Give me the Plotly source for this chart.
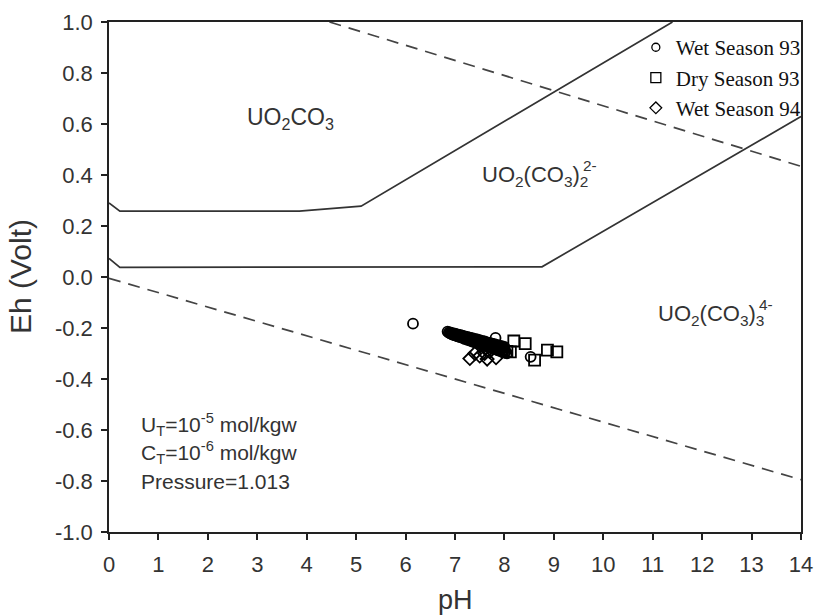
import plotly.graph_objects as go

# Stability field boundaries (pH, Eh in volts)
upper_bound_ph = [0.0, 0.22, 3.85, 5.1, 11.4]
upper_bound_eh = [0.29, 0.258, 0.258, 0.278, 1.0]
lower_bound_ph = [0.0, 0.22, 8.76, 14.0]
lower_bound_eh = [0.073, 0.038, 0.040, 0.629]

# Water stability limits
o2_limit_ph = [4.46, 14.0]
o2_limit_eh = [1.0, 0.434]
h2_limit_ph = [0.0, 14.0]
h2_limit_eh = [-0.005, -0.795]

# Groundwater samples
wet93_ph = [6.15, 7.82, 8.53,
            6.85, 6.90, 6.95, 7.00, 7.05, 7.10, 7.15, 7.20, 7.25, 7.30, 7.35, 7.40,
            7.45, 7.50, 7.55, 7.60, 7.65, 7.70, 7.75, 7.80, 7.85, 7.90, 7.95, 8.00,
            6.875, 6.925, 6.975, 7.025, 7.075, 7.125, 7.175, 7.225, 7.275, 7.325,
            7.375, 7.425, 7.475, 7.525, 7.575, 7.625, 7.675, 7.725, 7.775, 7.825,
            7.875, 7.925, 7.975,
            6.90, 7.00, 7.10, 7.20, 7.30, 7.40, 7.50, 7.60, 7.70, 7.80, 7.90, 8.00,
            6.925, 6.975, 7.025, 7.075, 7.125, 7.175, 7.225, 7.275, 7.325, 7.375,
            7.425, 7.475, 7.525, 7.575, 7.625, 7.675, 7.725, 7.775, 7.825, 7.875,
            7.925, 7.975, 8.025,
            6.95, 7.00, 7.05, 7.10, 7.15, 7.20, 7.25, 7.30, 7.35, 7.40, 7.45, 7.50,
            7.55, 7.60, 7.65, 7.70, 7.75, 7.80, 7.85, 7.90, 7.95, 8.00, 8.05]
wet93_eh = [-0.183, -0.239, -0.313,
            -0.214, -0.217, -0.220, -0.222, -0.225, -0.227, -0.230, -0.233, -0.235,
            -0.238, -0.240, -0.243, -0.245, -0.248, -0.251, -0.253, -0.256, -0.258,
            -0.261, -0.263, -0.266, -0.269, -0.271, -0.274,
            -0.218, -0.220, -0.223, -0.226, -0.229, -0.231, -0.234, -0.237, -0.240,
            -0.242, -0.245, -0.248, -0.251, -0.253, -0.256, -0.259, -0.262, -0.264,
            -0.267, -0.270, -0.273, -0.275, -0.278,
            -0.221, -0.226, -0.232, -0.238, -0.244, -0.250, -0.256, -0.262, -0.267,
            -0.273, -0.279, -0.285,
            -0.223, -0.227, -0.230, -0.233, -0.236, -0.239, -0.242, -0.245, -0.248,
            -0.252, -0.255, -0.258, -0.261, -0.264, -0.267, -0.270, -0.273, -0.277,
            -0.280, -0.283, -0.286, -0.289, -0.292,
            -0.226, -0.229, -0.233, -0.236, -0.239, -0.243, -0.246, -0.249, -0.253,
            -0.256, -0.259, -0.263, -0.266, -0.270, -0.273, -0.276, -0.280, -0.283,
            -0.286, -0.290, -0.293, -0.296, -0.299]
dry93_ph = [7.95, 8.05, 8.19, 8.42, 8.12, 8.61, 8.87, 9.06]
dry93_eh = [-0.285, -0.292, -0.251, -0.261, -0.294, -0.326, -0.287, -0.294]
wet94_ph = [7.30, 7.40, 7.50, 7.60, 7.65, 7.70, 7.83]
wet94_eh = [-0.320, -0.300, -0.310, -0.300, -0.322, -0.292, -0.317]

x_ticks = list(range(0, 15))
y_ticks = [1.0, 0.8, 0.6, 0.4, 0.2, 0.0, -0.2, -0.4, -0.6, -0.8, -1.0]

LINE = "#333333"
TEXT = "#333333"
SANS = "Liberation Sans, Arial, sans-serif"
SERIF = "Liberation Serif, Times New Roman, serif"

fig = go.Figure()

for xs, ys in [(upper_bound_ph, upper_bound_eh), (lower_bound_ph, lower_bound_eh)]:
    fig.add_trace(go.Scatter(x=xs, y=ys, mode="lines", showlegend=False,
                             line=dict(color=LINE, width=1.7), hoverinfo="skip"))
for xs, ys in [(o2_limit_ph, o2_limit_eh), (h2_limit_ph, h2_limit_eh)]:
    fig.add_trace(go.Scatter(x=xs, y=ys, mode="lines", showlegend=False,
                             line=dict(color="#444444", width=1.7, dash="12px,8px"),
                             hoverinfo="skip"))

series = [
    ("Wet Season 93", wet93_ph, wet93_eh, "circle-open", 10, 8),
    ("Dry Season 93", dry93_ph, dry93_eh, "square-open", 11, 10),
    ("Wet Season 94", wet94_ph, wet94_eh, "diamond-open", 10, 9),
]
for i, (name, xs, ys, sym, size, leg_size) in enumerate(series):
    fig.add_trace(go.Scatter(
        x=xs, y=ys, mode="markers", name=name, showlegend=False,
        marker=dict(symbol=sym, size=size, color="black", line=dict(width=1.8, color="black")),
    ))
    # legend entry drawn with a smaller symbol
    fig.add_trace(go.Scatter(
        x=[None], y=[None], mode="markers", name=name, legendgroup=f"g{i}",
        marker=dict(symbol=sym, size=leg_size, color="black", line=dict(width=1.3, color="black")),
    ))


def label(x, y, text, size=22, xanchor="center"):
    fig.add_annotation(x=x, y=y, text=text, showarrow=False, xanchor=xanchor,
                       font=dict(family=SANS, size=size, color=TEXT))


def species(x_right, y, body, charge, size=22):
    # body ends with a subscript; the charge is stacked above that subscript
    fig.add_annotation(x=x_right, y=y, text=body, showarrow=False, xanchor="right",
                       font=dict(family=SANS, size=size, color=TEXT))
    sub_w = 0.556 * 0.7 * size
    fig.add_annotation(x=x_right, y=y, text=charge, showarrow=False, xanchor="left",
                       xshift=-sub_w - 1, yshift=0.5 * size,
                       font=dict(family=SANS, size=0.7 * size, color=TEXT))


label(3.68, 0.62, "UO<sub>2</sub>CO<sub>3</sub>", size=23)
species(9.74, 0.395, "UO<sub>2</sub>(CO<sub>3</sub>)<sub>2</sub>", "2-")
species(13.3, -0.15, "UO<sub>2</sub>(CO<sub>3</sub>)<sub>3</sub>", "4-")
label(0.6, -0.58, "U<sub>T</sub>=10<sup>-5</sup> mol/kgw", size=21, xanchor="left")
label(0.6, -0.69, "C<sub>T</sub>=10<sup>-6</sup> mol/kgw", size=21, xanchor="left")
label(0.6, -0.80, "Pressure=1.013", size=21, xanchor="left")

# Axis titles placed at fixed offsets from the plot frame
fig.add_annotation(xref="paper", yref="paper", x=0.5, y=0, yshift=-68,
                   xanchor="center", yanchor="middle", showarrow=False, text="pH",
                   font=dict(family=SANS, size=27, color=TEXT))
fig.add_annotation(xref="paper", yref="paper", x=0, y=0.5, xshift=-89,
                   xanchor="center", yanchor="middle", showarrow=False, text="Eh (Volt)",
                   textangle=-90, font=dict(family=SANS, size=30, color=TEXT))

axis_common = dict(
    showgrid=False, zeroline=False, showline=True, linecolor="#222222", linewidth=1.5,
    mirror=True, ticks="outside", ticklen=6, tickwidth=1.5, tickcolor="#222222",
    tickfont=dict(family=SANS, size=22, color=TEXT), automargin=False,
)

fig.update_layout(
    width=818, height=615,
    margin=dict(l=109, r=15, t=22, b=83),
    paper_bgcolor="white", plot_bgcolor="white",
    xaxis=dict(range=[0, 14], tickvals=x_ticks, ticktext=[str(v) for v in x_ticks],
               ticklabelstandoff=6, **axis_common),
    yaxis=dict(range=[-1.0, 1.0], tickvals=y_ticks,
               ticktext=[f"{v:.1f}" for v in y_ticks],
               ticklabelstandoff=4, **axis_common),
    legend=dict(x=1.007, y=0.99, xanchor="right", yanchor="top",
                bgcolor="rgba(255,255,255,0)", borderwidth=0, tracegroupgap=0,
                itemwidth=30,
                font=dict(family=SERIF, size=21, color="#111111")),
)

fig.write_html("out.html")
